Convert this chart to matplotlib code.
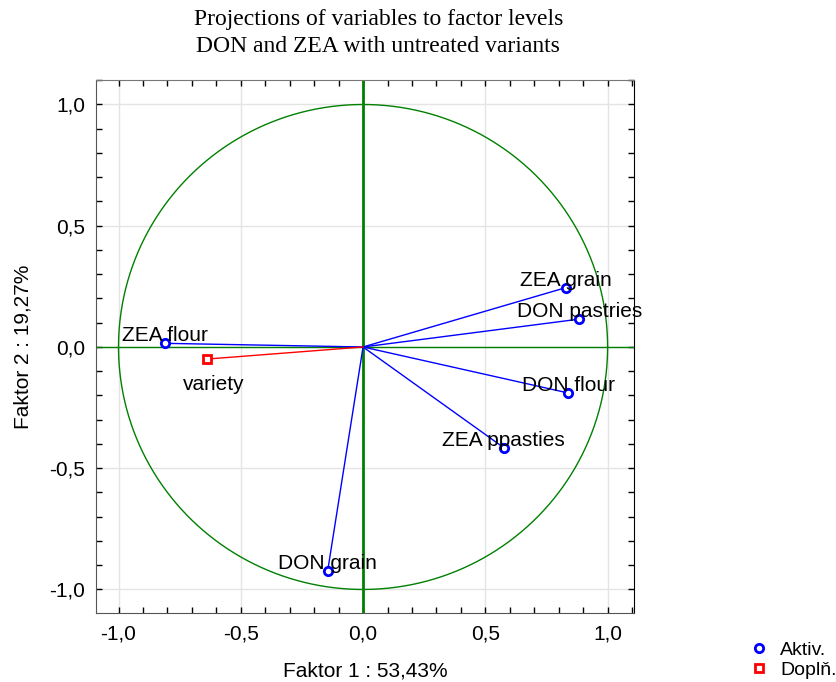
import numpy as np
import matplotlib
matplotlib.use('Agg')
import matplotlib.pyplot as plt
from matplotlib.ticker import MultipleLocator, FuncFormatter
from matplotlib.lines import Line2D

# active variables
act_names = ['ZEA flour', 'ZEA grain', 'DON pastries', 'DON flour', 'ZEA ppasties', 'DON grain']
act_x = [-0.81, 0.83, 0.885, 0.84, 0.575, -0.145]
act_y = [0.015, 0.245, 0.115, -0.19, -0.415, -0.925]

# supplementary variable
sup_names = ['variety']
sup_x = [-0.64]
sup_y = [-0.05]

xlab = 'Faktor 1 : 53,43%'
ylab = 'Faktor 2 : 19,27%'
title = 'Projections of variables to factor levels\nDON and ZEA with untreated variants'

plt.rcParams['font.family'] = ['Liberation Sans', 'DejaVu Sans']
fs = 15

fig = plt.figure(figsize=(8.37, 6.82), dpi=100)
ax = fig.add_axes([0.1147, 0.1012, 0.6428, 0.7815])

t = np.linspace(0, 2*np.pi, 400)
ax.plot(np.cos(t), np.sin(t), color='green', lw=1, zorder=2)
ax.axhline(0, color='green', lw=1, zorder=2)
ax.axvline(0, color='green', lw=2, zorder=2)

for n, xv, yv in zip(act_names, act_x, act_y):
    ax.plot([0, xv], [0, yv], color='blue', lw=1, zorder=3)
    ax.text(xv, yv + 0.008, n, ha='center', va='baseline', fontsize=fs, zorder=5)
ax.plot(act_x, act_y, 'o', mfc='white', mec='blue', mew=2, ms=6, zorder=4)

for n, xv, yv in zip(sup_names, sup_x, sup_y):
    ax.plot([0, xv], [0, yv], color='red', lw=1, zorder=3)
    ax.text(xv + 0.03, yv - 0.127, n, ha='center', va='baseline', fontsize=fs, zorder=5)
ax.plot(sup_x, sup_y, 's', mfc='white', mec='red', mew=2, ms=6, zorder=4)

ax.set_xlim(-1.092, 1.108)
ax.set_ylim(-1.097, 1.101)
ax.xaxis.set_major_locator(MultipleLocator(0.5))
ax.yaxis.set_major_locator(MultipleLocator(0.5))
ax.xaxis.set_minor_locator(MultipleLocator(0.1))
ax.yaxis.set_minor_locator(MultipleLocator(0.1))
fmt = FuncFormatter(lambda v, p: ('%.1f' % v).replace('.', ','))
ax.xaxis.set_major_formatter(fmt)
ax.yaxis.set_major_formatter(fmt)
ax.tick_params(which='both', direction='in', top=True, right=True, length=4, width=1,
               labelsize=fs, pad=8)
ax.grid(True, which='major', color='#e4e4e4', lw=1, zorder=0)
ax.set_axisbelow(True)
for s in ['left', 'bottom']:
    ax.spines[s].set_color('#555555')
ax.spines['top'].set_color('#777777')
ax.spines['right'].set_color('black')

ax.set_xlabel(xlab, fontsize=fs, labelpad=13)
ax.set_ylabel(ylab, fontsize=fs, labelpad=12)
fig.text(0.452, 0.952, title, ha='center', va='center', fontsize=17,
         family='Liberation Serif', linespacing=1.38)

handles = [Line2D([], [], ls='none', marker='o', mfc='white', mec='blue', mew=2, ms=6),
           Line2D([], [], ls='none', marker='s', mfc='white', mec='red', mew=2, ms=6)]
fig.legend(handles, ['Aktiv.', 'Dopl\u0148.'], loc='center left',
           bbox_to_anchor=(0.895, 0.032), frameon=False, fontsize=14,
           handletextpad=0.6, labelspacing=0.1, handlelength=1.0, borderpad=0.0,
           borderaxespad=0.0)

plt.savefig('out.png', dpi=100)
